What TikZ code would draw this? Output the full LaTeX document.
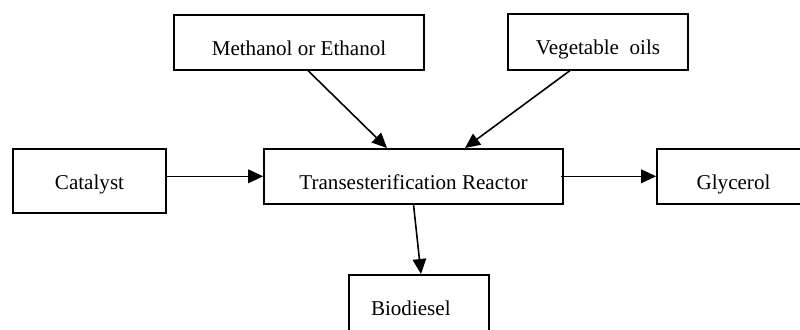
\documentclass[tikz,border=0pt]{standalone}
\usepackage{fontspec}
\setmainfont{Liberation Serif}
\usetikzlibrary{arrows.meta}

\begin{document}
\begin{tikzpicture}[x=0.02cm, y=-0.02cm,
        blk/.style={draw, line width=0.9pt, anchor=north, inner sep=0pt,
            text height=0.82cm, text depth=0.28cm,
            font=\fontsize{12pt}{14pt}\selectfont},
        flow/.style={line width=0.9pt, -{Triangle[length=0.3cm, width=0.27cm]}}]
    \clip (0,0) rectangle (800,329);
    % feeds
    \node[blk, minimum width=5cm] (meth) at (299,14) {Methanol or Ethanol};
    \node[blk, minimum width=3.6cm, text depth=0.30cm] (veg) at (598,13) {Vegetable\ \ oils};
    \node[blk, minimum width=3.06cm, text depth=0.46cm] (cat) at (89.5,148) {Catalyst};
    % reactor and products
    \node[blk, minimum width=5.98cm] (reac) at (413.5,148) {Transesterification Reactor};
    \node[blk, minimum width=3.06cm] (gly) at (733.5,148) {Glycerol};
    \node[blk, text depth=0.6cm, inner xsep=0.44cm, text width=1.92cm, align=left] (bio) at (419,274) {Biodiesel};

    \draw[flow] ([xshift=0.18cm]meth.south) -- ([xshift=-0.53cm]reac.north);
    \draw[flow] ([xshift=-0.56cm]veg.south) -- ([xshift=1.03cm]reac.north);
    \draw[flow] (cat.east |- reac.west) -- (reac.west);
    \draw[flow] ([xshift=-0.06cm]reac.east) -- (gly.west);
    \draw[flow] (reac.south) -- ([xshift=0.04cm]bio.north);
\end{tikzpicture}
\end{document}
